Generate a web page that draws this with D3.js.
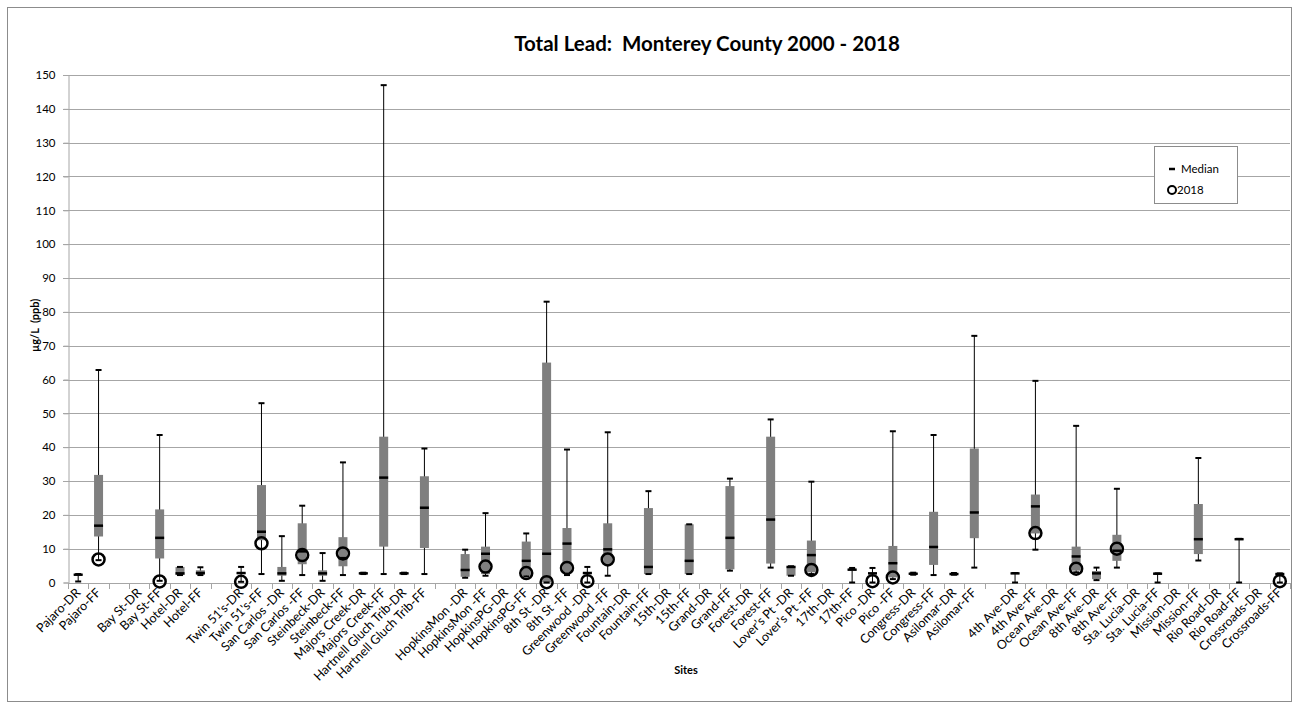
<!DOCTYPE html>
<html>
<head>
<meta charset="utf-8">
<script src="https://cdn.jsdelivr.net/npm/d3@7"></script>
<style>
  body { margin: 0; background: #fff; }
  text { font-family: Lato, "Liberation Sans", sans-serif; white-space: pre; }
</style>
</head>
<body>
<div id="chart"></div>
<script>
const width = 1299,
  height = 708;

// sites along the x axis ("" = spacer column)
const sites = [
  "Pajaro-DR", "Pajaro-FF", "", "Bay St-DR", "Bay St-FF", "Hotel-DR", "Hotel-FF", "",
  "Twin 51's-DR", "Twin 51's-FF", "San Carlos -DR", "San Carlos -FF", "Steinbeck-DR", "Steinbeck-FF",
  "Majors Creek-DR", "Majors Creek-FF", "Hartnell Gluch Trib-DR", "Hartnell Gluch Trib-FF", "",
  "HopkinsMon -DR", "HopkinsMon -FF", "HopkinsPG-DR", "HopkinsPG-FF", "8th St -DR", "8th St -FF",
  "Greenwood -DR", "Greenwood -FF", "Fountain-DR", "Fountain-FF", "15th-DR", "15th-FF",
  "Grand-DR", "Grand-FF", "Forest-DR", "Forest-FF", "Lover\u2019s Pt -DR", "Lover\u2019s Pt -FF",
  "17th-DR", "17th-FF", "Pico -DR", "Pico -FF", "Congress-DR", "Congress-FF", "Asilomar-DR", "Asilomar-FF", "",
  "4th Ave-DR", "4th Ave-FF", "Ocean Ave-DR", "Ocean Ave-FF", "8th Ave-DR", "8th Ave-FF",
  "Sta. Lucia-DR", "Sta. Lucia-FF", "Mission-DR", "Mission-FF", "Rio Road-DR", "Rio Road-FF",
  "Crossroads-DR", "Crossroads-FF"
];

// box statistics per site, µg/L (null = no data)
const minV = [0.3, 6.6, null, null, 0.5, 2.2, 2.2, null, 0.2, 2.5, 0.5, 2.2, 0.5, 2.2, 2.5, 2.5, 2.5, 2.5, null,
  1.4, 2.0, null, 1.8, 0, 2.2, 0, 2.0, null, 2.5, null, 2.5, null, 3.5, null, 4.4, 2.0, 2.5, null, 0, 0, 1.0,
  2.3, 2.2, 2.3, 4.4, null, 0, 9.7, null, 3.0, 0.7, 4.4, null, 0, null, 6.5, null, 0, null, 0];
const q1V = [2.2, 13.6, null, null, 7.1, 2.2, 2.3, null, 2.5, 12.5, 2.0, 5.4, 2.0, 4.8, 2.5, 10.6, 2.5, 10.2, null,
  1.7, 2.5, null, 2.0, 0, 3.0, 2.5, 5.4, null, 2.5, null, 2.5, null, 3.9, null, 5.6, 2.0, 3.0, null, 3.5, 2.5, 1.5,
  2.4, 5.2, 2.4, 13.1, null, 2.6, 14.5, null, 3.5, 1.0, 6.4, null, 2.5, null, 8.4, null, 12.7, null, 2.4];
const medV = [2.3, 16.8, null, null, 13.2, 2.7, 2.8, null, 2.8, 15.0, 2.7, 9.2, 2.7, 7.2, 2.7, 31.0, 2.7, 22.1, null,
  3.7, 8.5, null, 6.4, 8.5, 11.5, 2.8, 9.8, null, 4.6, null, 6.4, null, 13.2, null, 18.6, 4.6, 8.1, null, 3.8, 2.7, 5.7,
  2.6, 10.5, 2.5, 20.7, null, 2.7, 22.5, null, 7.7, 2.7, 9.4, null, 2.6, null, 12.8, null, 12.8, null, 2.5];
const q3V = [2.4, 31.8, null, null, 21.6, 4.6, 3.6, null, 3.0, 28.8, 4.6, 17.5, 3.6, 13.4, 2.9, 43.1, 2.9, 31.4, null,
  8.4, 10.6, null, 12.1, 65.0, 16.1, 3.0, 17.5, null, 22.0, null, 17.2, null, 28.5, null, 43.1, 4.8, 12.4, null, 4.0, 2.9, 10.8,
  2.8, 20.9, 2.7, 39.6, null, 2.8, 26.0, null, 10.6, 3.4, 14.1, null, 2.7, null, 23.2, null, 12.9, null, 2.6];
const maxV = [2.5, 62.8, null, null, 43.6, 4.6, 4.5, null, 4.6, 53.0, 13.7, 22.7, 8.7, 35.5, 2.9, 147, 2.9, 39.6, null,
  9.7, 20.5, null, 14.5, 83.0, 39.3, 4.6, 44.4, null, 27.0, null, 17.2, null, 30.7, null, 48.2, 4.8, 29.8, null, 4.3, 4.3, 44.7,
  2.9, 43.6, 2.8, 72.9, null, 2.8, 59.6, null, 46.3, 4.4, 27.7, null, 2.7, null, 36.8, null, 12.9, null, 2.7];
// 2018 sample
const v2018 = [null, 6.8, null, null, 0.3, null, null, null, 0.2, 11.6, null, 8.1, null, 8.6, null, null, null, null, null,
  null, 4.7, null, 2.8, 0.1, 4.3, 0.4, 6.8, null, null, null, null, null, null, null, null, null, 3.7, null, null, 0.4, 1.5,
  null, null, null, null, null, null, 14.6, null, 4.1, null, 10.0, null, null, null, null, null, null, null, 0.4];

const yTicks = d3.range(0, 151, 10);

const margin = { left: 68, right: 9, top: 75, bottom: 125.5 };

const svg = d3.select("#chart").append("svg").attr("width", width).attr("height", height);

// chart border
svg.append("rect")
  .attr("x", 7.5).attr("y", 7.5)
  .attr("width", width - 15).attr("height", height - 14)
  .attr("fill", "#fff").attr("stroke", "#8c8c8c");

const x = d3.scaleBand()
  .domain(d3.range(sites.length))
  .range([margin.left, width - margin.right]);

const y = d3.scaleLinear()
  .domain([0, 150])
  .range([height - margin.bottom, margin.top]);

// gridlines
svg.append("g")
  .selectAll("line")
  .data(yTicks.filter(d => d > 0))
  .join("line")
  .attr("x1", margin.left - 5).attr("x2", width - margin.right)
  .attr("y1", d => Math.round(y(d)) + 0.5).attr("y2", d => Math.round(y(d)) + 0.5)
  .attr("stroke", "#a6a6a6");

// y axis
const yAxis = svg.append("g")
  .attr("transform", `translate(${margin.left + 0.5},0)`)
  .call(d3.axisLeft(y).tickValues(yTicks).tickSize(5).tickPadding(8));
yAxis.select(".domain").attr("stroke", "#a6a6a6");
yAxis.selectAll(".tick line").attr("stroke", "#a6a6a6");
yAxis.selectAll(".tick text").attr("font-size", 11.5).attr("fill", "#000").attr("font-family", "Lato");

// x axis with ticks on band edges
const x0 = y(0);
svg.append("line")
  .attr("x1", margin.left).attr("x2", width - margin.right)
  .attr("y1", Math.round(x0) + 0.5).attr("y2", Math.round(x0) + 0.5)
  .attr("stroke", "#a6a6a6");
svg.append("g")
  .selectAll("line")
  .data(d3.range(sites.length + 1))
  .join("line")
  .attr("x1", i => Math.round(margin.left + i * x.bandwidth()) + 0.5)
  .attr("x2", i => Math.round(margin.left + i * x.bandwidth()) + 0.5)
  .attr("y1", Math.round(x0)).attr("y2", Math.round(x0) + 6)
  .attr("stroke", "#a6a6a6");

svg.append("g")
  .selectAll("text")
  .data(sites)
  .join("text")
  .attr("transform", (d, i) => `translate(${x(i) + x.bandwidth() / 2 + 3},${x0 + 11}) rotate(-45)`)
  .attr("text-anchor", "end")
  .attr("font-size", 12.5)
  .text(d => d);

const cx = i => x(i) + x.bandwidth() / 2;
const idx = d3.range(sites.length).filter(i => maxV[i] != null);

// whiskers
svg.append("g")
  .selectAll("line")
  .data(idx)
  .join("line")
  .attr("x1", cx).attr("x2", cx)
  .attr("y1", i => y(minV[i])).attr("y2", i => y(maxV[i]))
  .attr("stroke", "#000").attr("stroke-width", 1);

// boxes
svg.append("g")
  .selectAll("rect")
  .data(idx)
  .join("rect")
  .attr("x", i => cx(i) - 4.5)
  .attr("width", 9)
  .attr("y", i => y(q3V[i]))
  .attr("height", i => Math.max(0, y(q1V[i]) - y(q3V[i])))
  .attr("fill", "#7f7f7f");

// caps at min and max
svg.append("g")
  .selectAll("line")
  .data(idx.flatMap(i => [[i, maxV[i]], [i, minV[i]]]))
  .join("line")
  .attr("x1", d => cx(d[0]) - 3).attr("x2", d => cx(d[0]) + 3)
  .attr("y1", d => y(d[1])).attr("y2", d => y(d[1]))
  .attr("stroke", "#000").attr("stroke-width", 2);

// medians
svg.append("g")
  .selectAll("line")
  .data(idx)
  .join("line")
  .attr("x1", i => cx(i) - 4.5).attr("x2", i => cx(i) + 4.5)
  .attr("y1", i => y(medV[i])).attr("y2", i => y(medV[i]))
  .attr("stroke", "#000").attr("stroke-width", 2.5);

// 2018 points
svg.append("g")
  .selectAll("circle")
  .data(d3.range(sites.length).filter(i => v2018[i] != null))
  .join("circle")
  .attr("cx", cx)
  .attr("cy", i => y(v2018[i]))
  .attr("r", 6)
  .attr("fill", "none")
  .attr("stroke", "#000")
  .attr("stroke-width", 2.5);

// titles
svg.append("text")
  .attr("x", 707).attr("y", 51)
  .attr("text-anchor", "middle")
  .attr("font-size", 20.5).attr("font-weight", "bold")
  .text("Total Lead:  Monterey County 2000 - 2018");

svg.append("text")
  .attr("transform", `translate(39,${y(76)}) rotate(-90)`)
  .attr("text-anchor", "middle")
  .attr("font-size", 11).attr("font-weight", "bold")
  .text("\u00b5g/L  (ppb)");

svg.append("text")
  .attr("x", 686).attr("y", 674)
  .attr("text-anchor", "middle")
  .attr("font-size", 11).attr("font-weight", "bold")
  .text("Sites");

// legend
const lg = svg.append("g").attr("transform", "translate(1154,146)");
lg.append("rect")
  .attr("x", 0.5).attr("y", 0.5).attr("width", 83).attr("height", 57)
  .attr("fill", "#fff").attr("stroke", "#8c8c8c");
lg.append("line")
  .attr("x1", 15).attr("x2", 21).attr("y1", 23).attr("y2", 23)
  .attr("stroke", "#000").attr("stroke-width", 2.5);
lg.append("text").attr("x", 27).attr("y", 27).attr("font-size", 11.5).text("Median");
lg.append("circle")
  .attr("cx", 18).attr("cy", 44).attr("r", 4)
  .attr("fill", "none").attr("stroke", "#000").attr("stroke-width", 2);
lg.append("text").attr("x", 23).attr("y", 48).attr("font-size", 11.5).text("2018");
</script>
</body>
</html>
